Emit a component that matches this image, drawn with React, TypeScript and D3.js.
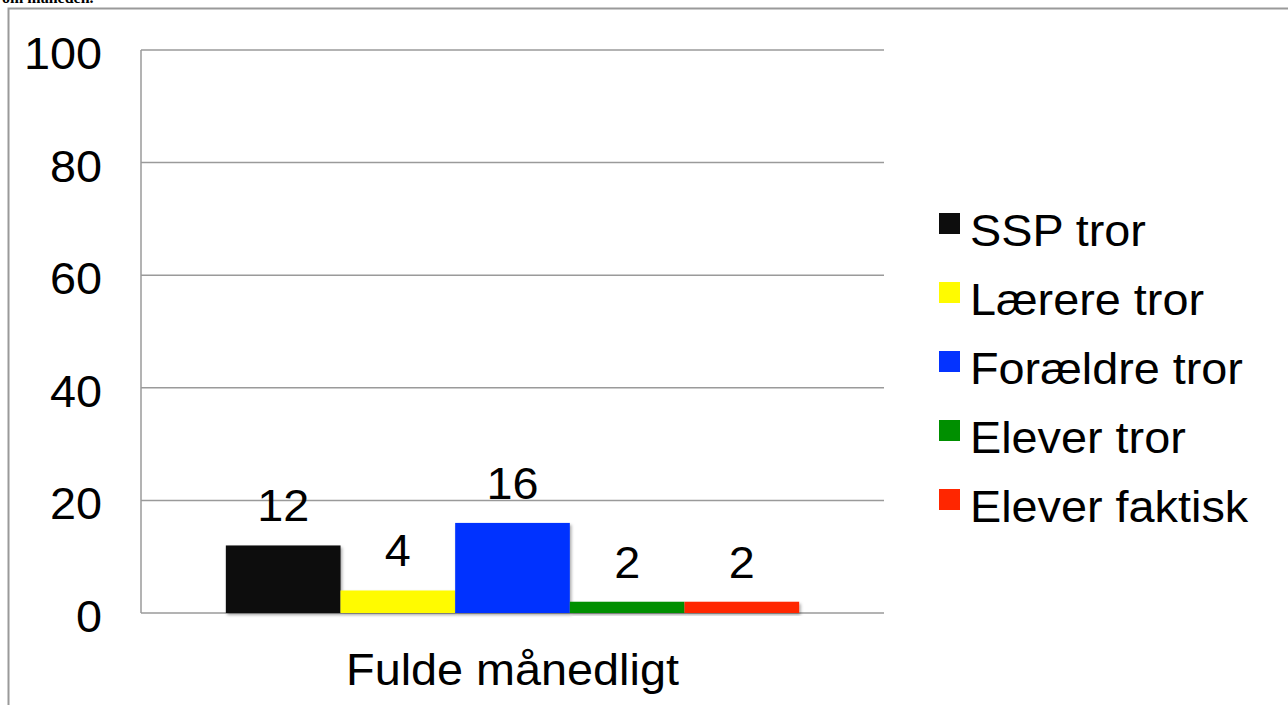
import * as React from 'react';
import * as d3 from 'd3';

const categories = ['Fulde månedligt'];
const seriesNames = ['SSP tror', 'Lærere tror', 'Forældre tror', 'Elever tror', 'Elever faktisk'];
const seriesValues = [12, 4, 16, 2, 2];
const seriesColors = ['#0d0d0d', '#fffb00', '#0433ff', '#008f00', '#ff2600'];
const yTicks = [0, 20, 40, 60, 80, 100];

const W = 1288, H = 705;
const plot = { left: 141, right: 884, top: 50, bottom: 613 };
const font = '"Liberation Sans", Arial, Helvetica, sans-serif';
const FS = 45;
const SX = 1.04; // the source image is a touch wider than tall

// text with a small horizontal stretch, anchored at (x, y)
function Label(props: { x: number; y: number; anchor?: string; children: React.ReactNode }) {
  return (
    <text transform={`translate(${props.x},${props.y}) scale(${SX},1)`} textAnchor={props.anchor || 'start'}
      fontFamily={font} fontSize={FS} fill="#000">
      {props.children}
    </text>
  );
}

export default function App() {
  const y = d3.scaleLinear().domain([0, 100]).range([plot.bottom, plot.top]);
  const xCat = d3.scaleBand<string>()
    .domain(categories)
    .range([plot.left, plot.right])
    .paddingInner(0)
    .paddingOuter(0.148);
  const xSeries = d3.scaleBand<string>()
    .domain(seriesNames)
    .range([0, xCat.bandwidth()])
    .padding(0);

  return (
    <svg width={W} height={H} style={{ position: 'absolute', left: 0, top: 0, background: '#fff' }}>
      <defs>
        <filter id="barShadow" x="-10%" y="-10%" width="130%" height="130%">
          <feDropShadow dx="1.5" dy="2" stdDeviation="1.5" floodColor="#000" floodOpacity="0.35" />
        </filter>
      </defs>

      {/* caption text cut off above the chart */}
      <text x={2} y={3} fontFamily="'Liberation Serif', serif" fontSize={16} fontWeight="bold" fill="#000">
        om måneden.
      </text>

      {/* chart frame */}
      <rect x={8.5} y={8.5} width={W + 10} height={H + 10} fill="#fff" stroke="#9a9a9a" strokeWidth={2} />

      {/* grid */}
      {yTicks.map(t => (
        <line key={t} x1={plot.left} x2={plot.right} y1={y(t)} y2={y(t)} stroke="#9a9a9a" strokeWidth={1.5} />
      ))}
      <line x1={plot.left} x2={plot.left} y1={plot.top} y2={plot.bottom} stroke="#9a9a9a" strokeWidth={1.5} />

      {/* y tick labels */}
      {yTicks.map(t => (
        <Label key={t} x={102} y={y(t) + 19} anchor="end">{t}</Label>
      ))}

      {/* bars */}
      {categories.map(c => (
        <g key={c} transform={`translate(${xCat(c)},0)`}>
          {seriesNames.map((s, i) => (
            <rect key={s} x={xSeries(s)} y={y(seriesValues[i])} width={xSeries.bandwidth()}
              height={plot.bottom - y(seriesValues[i])} fill={seriesColors[i]} filter="url(#barShadow)" />
          ))}
          {seriesNames.map((s, i) => (
            <Label key={s} x={(xSeries(s) || 0) + xSeries.bandwidth() / 2} y={y(seriesValues[i]) - 24} anchor="middle">
              {seriesValues[i]}
            </Label>
          ))}
          <Label x={xCat.bandwidth() / 2} y={685} anchor="middle">{c}</Label>
        </g>
      ))}

      {/* legend */}
      {seriesNames.map((s, i) => (
        <g key={s} transform={`translate(939,${213 + i * 69})`}>
          <rect x={0} y={0} width={21} height={21} fill={seriesColors[i]} />
          <Label x={31} y={33}>{s}</Label>
        </g>
      ))}
    </svg>
  );
}
